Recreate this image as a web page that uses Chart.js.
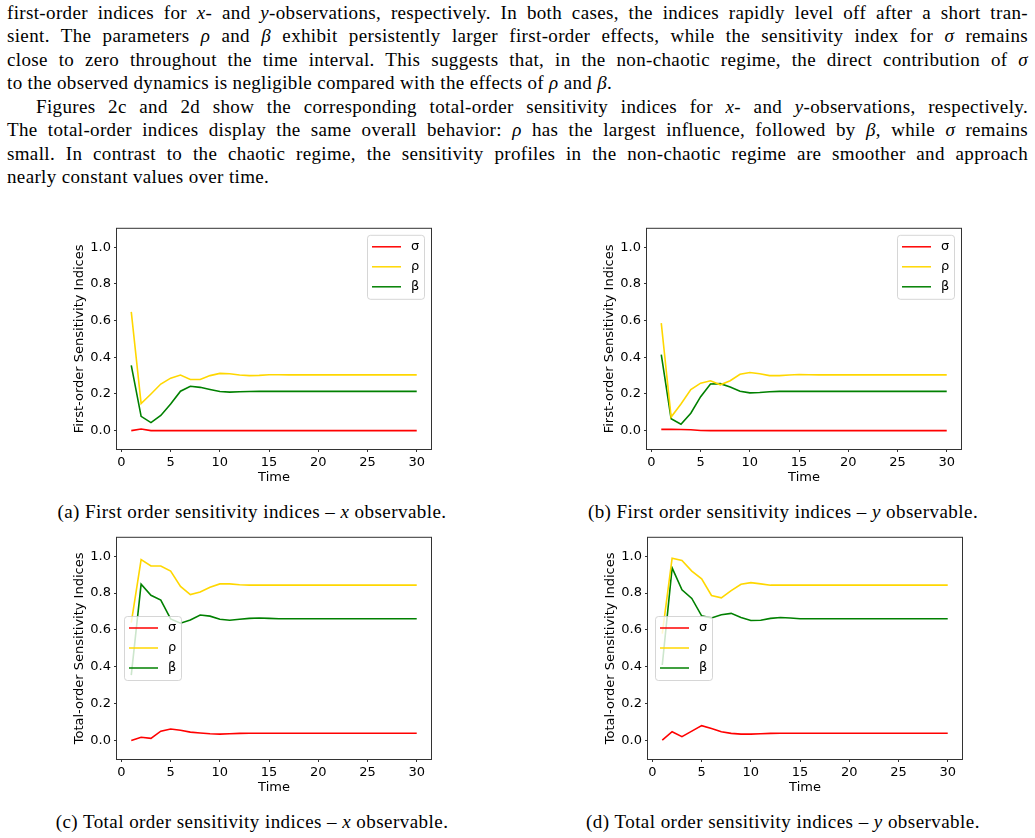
<!DOCTYPE html>
<html>
<head>
<meta charset="utf-8">
<script src="https://cdn.jsdelivr.net/npm/chart.js@4"></script>
<style>
  body { margin: 0; background: #fff; width: 1035px; height: 838px; position: relative; overflow: hidden; }
  .txt { position: absolute; left: 7px; top: 1px; width: 1021px; font-family: "Liberation Serif", serif; font-size: 19px; letter-spacing: 0.35px; line-height: 23.45px; color: #000; }
  .ln { text-align: justify; text-align-last: justify; white-space: nowrap; }
  .last { text-align: left; text-align-last: left; }
  .ind { text-indent: 29px; }
  canvas { position: absolute; }
  .cap { position: absolute; width: 500px; text-align: center; font-family: "Liberation Serif", serif; font-size: 19px; letter-spacing: 0.45px; line-height: 24px; color: #000; }
</style>
</head>
<body>
<div class="txt">
  <div class="ln">first-order indices for <i>x</i>- and <i>y</i>-observations, respectively. In both cases, the indices rapidly level off after a short tran-</div>
  <div class="ln">sient. The parameters <i>ρ</i> and <i>β</i> exhibit persistently larger first-order effects, while the sensitivity index for <i>σ</i> remains</div>
  <div class="ln">close to zero throughout the time interval. This suggests that, in the non-chaotic regime, the direct contribution of <i>σ</i></div>
  <div class="ln last">to the observed dynamics is negligible compared with the effects of <i>ρ</i> and <i>β</i>.</div>
  <div class="ln ind">Figures 2c and 2d show the corresponding total-order sensitivity indices for <i>x</i>- and <i>y</i>-observations, respectively.</div>
  <div class="ln">The total-order indices display the same overall behavior: <i>ρ</i> has the largest influence, followed by <i>β</i>, while <i>σ</i> remains</div>
  <div class="ln">small. In contrast to the chaotic regime, the sensitivity profiles in the non-chaotic regime are smoother and approach</div>
  <div class="ln last">nearly constant values over time.</div>
</div>

<canvas id="chartA" width="385" height="272" style="left:60px;top:218px"></canvas>
<canvas id="chartB" width="385" height="272" style="left:590px;top:218px"></canvas>
<canvas id="chartC" width="385" height="273" style="left:60px;top:527px"></canvas>
<canvas id="chartD" width="385" height="273" style="left:591px;top:527px"></canvas>

<div class="cap" style="left:2px;top:500px">(a) First order sensitivity indices – <i>x</i> observable.</div>
<div class="cap" style="left:533px;top:500px">(b) First order sensitivity indices – <i>y</i> observable.</div>
<div class="cap" style="left:2px;top:810px">(c) Total order sensitivity indices – <i>x</i> observable.</div>
<div class="cap" style="left:533px;top:810px">(d) Total order sensitivity indices – <i>y</i> observable.</div>

<script>
// time steps
var time = [1, 2, 3, 4, 5, 6, 7, 8, 9, 10, 11, 12, 13, 14, 15, 16, 17, 18, 19, 20, 21, 22, 23, 24, 25, 26, 27, 28, 29, 30];
var xTicks = [0, 5, 10, 15, 20, 25, 30];
var yTicks = [0.0, 0.2, 0.4, 0.6, 0.8, 1.0];
var paramNames = ['σ', 'ρ', 'β'];
var paramColors = ['#ff0000', '#ffd700', '#008000'];

// (a) first order, x observable
var first_x_sigma = [0.000, 0.009, 0.000, 0.000, 0.000, 0.000, 0.000, 0.000, 0.000, 0.000, 0.000, 0.000, 0.000, 0.000, 0.000, 0.000, 0.000, 0.000, 0.000, 0.000, 0.000, 0.000, 0.000, 0.000, 0.000, 0.000, 0.000, 0.000, 0.000, 0.000];
var first_x_rho   = [0.647, 0.148, 0.200, 0.254, 0.286, 0.303, 0.279, 0.279, 0.300, 0.312, 0.310, 0.303, 0.300, 0.301, 0.305, 0.305, 0.304, 0.304, 0.304, 0.304, 0.304, 0.304, 0.304, 0.304, 0.304, 0.304, 0.304, 0.304, 0.304, 0.304];
var first_x_beta  = [0.356, 0.078, 0.044, 0.083, 0.145, 0.215, 0.242, 0.236, 0.224, 0.213, 0.210, 0.212, 0.213, 0.214, 0.214, 0.214, 0.214, 0.214, 0.214, 0.214, 0.214, 0.214, 0.214, 0.214, 0.214, 0.214, 0.214, 0.214, 0.214, 0.214];

// (b) first order, y observable
var first_y_sigma = [0.007, 0.007, 0.006, 0.005, 0.001, 0.000, 0.000, 0.000, 0.000, 0.000, 0.000, 0.000, 0.000, 0.000, 0.000, 0.000, 0.000, 0.000, 0.000, 0.000, 0.000, 0.000, 0.000, 0.000, 0.000, 0.000, 0.000, 0.000, 0.000, 0.000];
var first_y_rho   = [0.586, 0.074, 0.145, 0.224, 0.259, 0.272, 0.250, 0.272, 0.307, 0.317, 0.310, 0.300, 0.300, 0.303, 0.306, 0.305, 0.304, 0.304, 0.304, 0.304, 0.304, 0.304, 0.304, 0.304, 0.304, 0.304, 0.304, 0.304, 0.304, 0.304];
var first_y_beta  = [0.414, 0.065, 0.035, 0.095, 0.185, 0.254, 0.256, 0.238, 0.215, 0.206, 0.208, 0.212, 0.214, 0.214, 0.214, 0.214, 0.214, 0.214, 0.214, 0.214, 0.214, 0.214, 0.214, 0.214, 0.214, 0.214, 0.214, 0.214, 0.214, 0.214];

// (c) total order, x observable
var total_x_sigma = [0.000, 0.018, 0.012, 0.051, 0.063, 0.056, 0.046, 0.041, 0.037, 0.035, 0.037, 0.039, 0.040, 0.040, 0.040, 0.040, 0.040, 0.040, 0.040, 0.040, 0.040, 0.040, 0.040, 0.040, 0.040, 0.040, 0.040, 0.040, 0.040, 0.040];
var total_x_rho   = [0.640, 0.982, 0.947, 0.947, 0.919, 0.836, 0.792, 0.806, 0.832, 0.850, 0.850, 0.845, 0.843, 0.843, 0.843, 0.843, 0.843, 0.843, 0.843, 0.843, 0.843, 0.843, 0.843, 0.843, 0.843, 0.843, 0.843, 0.843, 0.843, 0.843];
var total_x_beta  = [0.355, 0.848, 0.788, 0.762, 0.660, 0.637, 0.654, 0.681, 0.675, 0.658, 0.653, 0.658, 0.663, 0.665, 0.663, 0.661, 0.661, 0.661, 0.661, 0.661, 0.661, 0.661, 0.661, 0.661, 0.661, 0.661, 0.661, 0.661, 0.661, 0.661];

// (d) total order, y observable
var total_y_sigma = [0.002, 0.048, 0.021, 0.051, 0.081, 0.065, 0.048, 0.039, 0.035, 0.035, 0.037, 0.039, 0.040, 0.040, 0.040, 0.040, 0.040, 0.040, 0.040, 0.040, 0.040, 0.040, 0.040, 0.040, 0.040, 0.040, 0.040, 0.040, 0.040, 0.040];
var total_y_rho   = [0.580, 0.989, 0.977, 0.919, 0.877, 0.787, 0.774, 0.813, 0.848, 0.857, 0.850, 0.843, 0.843, 0.843, 0.843, 0.843, 0.843, 0.843, 0.843, 0.843, 0.843, 0.843, 0.843, 0.843, 0.843, 0.843, 0.843, 0.843, 0.843, 0.843];
var total_y_beta  = [0.410, 0.937, 0.818, 0.771, 0.677, 0.665, 0.683, 0.690, 0.668, 0.651, 0.653, 0.663, 0.668, 0.665, 0.661, 0.661, 0.661, 0.661, 0.661, 0.661, 0.661, 0.661, 0.661, 0.661, 0.661, 0.661, 0.661, 0.661, 0.661, 0.661];


// full box around the plot area, like matplotlib spines
const framePlugin = {
    id: 'frame',
    afterDatasetsDraw(chart) {
        const a = chart.chartArea;
        const ctx = chart.ctx;
        ctx.save();
        ctx.strokeStyle = '#333';
        ctx.lineWidth = 1;
        ctx.strokeRect(a.left - 0.5, a.top - 0.5, a.right - a.left + 1, a.bottom - a.top + 1);
        ctx.restore();
    }
};

// legend box drawn inside the axes
const boxLegend = {
    id: 'boxLegend',
    afterDraw(chart, args, opts) {
        const a = chart.chartArea;
        const ctx = chart.ctx;
        const w = 57, h = 64;
        let x, y;
        if (opts.where === 'upper right') {
            x = a.right - 7 - w;
            y = a.top + 6;
        } else {
            x = a.left + 7;
            y = Math.round((a.top + a.bottom) / 2 - h / 2);
        }
        ctx.save();
        ctx.beginPath();
        ctx.roundRect(x + 0.5, y + 0.5, w, h, 3);
        ctx.fillStyle = 'rgba(255,255,255,0.8)';
        ctx.fill();
        ctx.strokeStyle = 'rgba(204,204,204,0.8)';
        ctx.lineWidth = 1;
        ctx.stroke();
        chart.data.datasets.forEach((ds, i) => {
            const ry = y + 12 + i * 20;
            ctx.strokeStyle = ds.borderColor;
            ctx.lineWidth = 1.5;
            ctx.beginPath();
            ctx.moveTo(x + 5, ry);
            ctx.lineTo(x + 34, ry);
            ctx.stroke();
            ctx.fillStyle = '#000';
            ctx.font = '13px "DejaVu Sans"';
            ctx.textBaseline = 'middle';
            ctx.fillText(ds.label, x + 44, ry);
        });
        ctx.restore();
    }
};


function MakeChart(id, series, yTitle, legendWhere) {
    const datasets = [];
    for (let i = 0; i < series.length; i++) {
        datasets.push({
            label: paramNames[i],
            data: time.map((t, k) => ({x: t, y: series[i][k]})),
            borderColor: paramColors[i],
            backgroundColor: paramColors[i],
            borderWidth: 1.6,
            pointRadius: 0,
            tension: 0,
            fill: false
        });
    }
    const tickFont = {family: 'DejaVu Sans', size: 13};
    new Chart(document.getElementById(id), {
        type: 'line',
        data: {datasets: datasets},
        options: {
            responsive: false,
            animation: false,
            devicePixelRatio: 1,
            layout: {padding: {left: 0, top: 5, right: 14, bottom: 0}},
            plugins: {
                legend: {display: false},
                tooltip: {enabled: false},
                boxLegend: {where: legendWhere}
            },
            scales: {
                x: {
                    type: 'linear',
                    min: -0.45,
                    max: 31.45,
                    afterBuildTicks: s => { s.ticks = xTicks.map(v => ({value: v})); },
                    afterFit: s => { s.height = 41; },
                    ticks: {font: tickFont, color: '#000', padding: 3, maxRotation: 0, autoSkip: false},
                    grid: {drawOnChartArea: false, drawTicks: true, tickLength: 3, color: '#333'},
                    border: {display: false},
                    title: {display: true, text: 'Time', font: tickFont, color: '#000', padding: {top: 0, bottom: 5}}
                },
                y: {
                    min: -0.1,
                    max: 1.1,
                    afterBuildTicks: s => { s.ticks = yTicks.map(v => ({value: v})); },
                    afterFit: s => { s.width = 57; },
                    ticks: {font: tickFont, color: '#000', padding: 3, callback: v => v.toFixed(1)},
                    grid: {drawOnChartArea: false, drawTicks: true, tickLength: 3, color: '#333'},
                    border: {display: false},
                    title: {display: true, text: yTitle, font: tickFont, color: '#000', padding: {top: 12, bottom: 0}}
                }
            }
        },
        plugins: [framePlugin, boxLegend]
    });
}


document.addEventListener('DOMContentLoaded', function() {
    MakeChart('chartA', [first_x_sigma, first_x_rho, first_x_beta], 'First-order Sensitivity Indices', 'upper right');
    MakeChart('chartB', [first_y_sigma, first_y_rho, first_y_beta], 'First-order Sensitivity Indices', 'upper right');
    MakeChart('chartC', [total_x_sigma, total_x_rho, total_x_beta], 'Total-order Sensitivity Indices', 'center left');
    MakeChart('chartD', [total_y_sigma, total_y_rho, total_y_beta], 'Total-order Sensitivity Indices', 'center left');
})
</script>
</body>
</html>
